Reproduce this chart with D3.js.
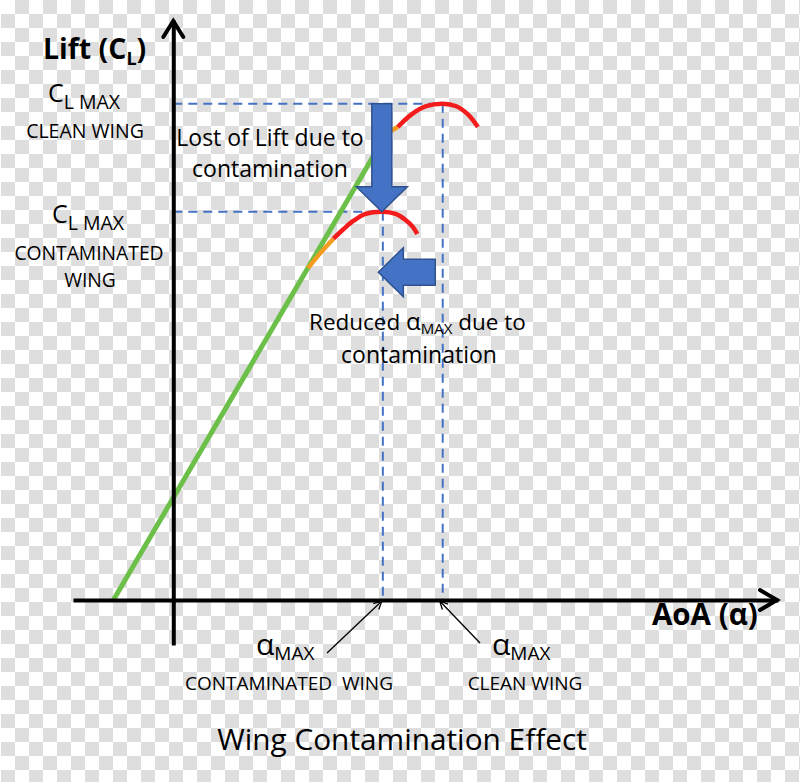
<!DOCTYPE html>
<html>
<head>
<meta charset="utf-8">
<script src="https://cdn.jsdelivr.net/npm/d3@7/dist/d3.min.js"></script>
<style>
	body { margin: 0; background: #fff; }
	svg { display: block; }
	text { font-family: 'Open Sans', Lato, sans-serif; fill: #000; }
</style>
</head>
<body>
<svg id="chart" width="800" height="782"></svg>
<script>
'use strict';

// angle of attack (deg) and lift coefficient
const liftLine = [[-4, 0], [14.2, 1.5]];
const cleanOrange = [[14.2, 1.5], [14.6, 1.514], [15.0, 1.525]];
const cleanRed = [[15.0, 1.525], [15.9, 1.565], [16.9, 1.592], [18.0, 1.6], [18.9, 1.592], [19.7, 1.565], [20.35, 1.525]];
const contamOrange = [[9.0, 1.07], [9.85, 1.12], [10.7, 1.165]];
const contamRed = [[10.7, 1.165], [11.4, 1.197], [12.05, 1.223], [12.85, 1.245], [14.0, 1.252], [14.85, 1.245], [15.5, 1.226], [16.0, 1.203], [16.3, 1.18]];
const alphaMax = [14, 18];      // contaminated, clean
const clMax = [1.252, 1.6];     // contaminated, clean
const lossArrow = [1.6, 1.252]; // CL from, to at alpha 14
const shiftArrow = [17.5, 13.7]; // alpha from, to at CL 1.057
const shiftArrowCl = 1.057;

const svg = d3.select('#chart'),
	W = 800, H = 782,
	x = d3.scaleLinear().domain([-6.7, 40.4]).range([73, 778]),
	y = d3.scaleLinear().domain([-0.145, 1.87]).range([645, 20]),
	blue = '#4472c4',
	line = d3.line().x(d => x(d[0])).y(d => y(d[1])).curve(d3.curveCatmullRom);

// transparent-png checker background
const cell = 14, cells = [];
d3.range(-1, Math.ceil(W / cell) + 1).forEach(i => {
	d3.range(0, Math.ceil(H / cell)).forEach(j => {
		if (Math.abs(i + j) % 2 === 0) cells.push([15 + i * cell, j * cell]);
	});
});
svg.append('rect').attr('width', W).attr('height', H).attr('fill', '#fff');
svg.append('g').attr('fill', '#dedede')
	.selectAll('rect').data(cells).enter().append('rect')
		.attr('x', d => d[0]).attr('y', d => d[1])
		.attr('width', cell).attr('height', cell);

const defs = svg.append('defs');
defs.append('marker')
	.attr('id', 'thin')
	.attr('viewBox', '0 0 10 10')
	.attr('refX', 9).attr('refY', 5)
	.attr('markerWidth', 10).attr('markerHeight', 10)
	.attr('markerUnits', 'userSpaceOnUse')
	.attr('orient', 'auto')
	.append('path')
		.attr('d', 'M1,1 L9,5 L1,9')
		.attr('fill', 'none').attr('stroke', '#000').attr('stroke-width', 1.3);

// dashed guide lines
const guides = svg.append('g')
	.attr('stroke', blue).attr('stroke-width', 2)
	.attr('stroke-dasharray', '9,6').attr('fill', 'none');
alphaMax.forEach((a, i) => {
	guides.append('line')
		.attr('x1', x(0)).attr('x2', x(a))
		.attr('y1', y(clMax[i])).attr('y2', y(clMax[i]));
	guides.append('line')
		.attr('x1', x(a)).attr('x2', x(a))
		.attr('y1', y(clMax[i])).attr('y2', y(0));
});

// lift curves
const curves = [
	{ d: liftLine, c: '#6cc04a', w: 5 },
	{ d: contamOrange, c: '#f39c1f', w: 4.5 },
	{ d: contamRed, c: '#f21c1c', w: 4.5 },
	{ d: cleanOrange, c: '#f39c1f', w: 4.5 },
	{ d: cleanRed, c: '#f21c1c', w: 4.5 }
];
svg.append('g').selectAll('path').data(curves).enter().append('path')
	.attr('d', d => line(d.d))
	.attr('fill', 'none')
	.attr('stroke', d => d.c)
	.attr('stroke-width', d => d.w);

// axes without ticks, plus open arrow heads
svg.append('g')
	.attr('class', 'axis')
	.attr('transform', `translate(0,${y(0)})`)
	.call(d3.axisBottom(x).tickValues([]).tickSizeOuter(0));
svg.append('g')
	.attr('class', 'axis')
	.attr('transform', `translate(${x(0)},0)`)
	.call(d3.axisLeft(y).tickValues([]).tickSizeOuter(0));
svg.selectAll('.axis .domain').attr('stroke', '#000').attr('stroke-width', 4);

const heads = svg.append('g')
	.attr('fill', 'none').attr('stroke', '#000').attr('stroke-width', 4)
	.attr('stroke-linecap', 'round').attr('stroke-linejoin', 'miter');
heads.append('path').attr('d', `M${x(0) - 10},${y(1.87) + 17} L${x(0)},${y(1.87) + 1} L${x(0) + 10},${y(1.87) + 17}`);
heads.append('path').attr('d', `M${x(40.4) - 18},${y(0) - 10} L${x(40.4) - 1},${y(0)} L${x(40.4) - 18},${y(0) + 10}`);

// block arrows
const downArrow = (cx, y0, y1) => {
	const sw = 10, hw = 25.5, hl = 25;
	return `M${cx - sw},${y0} L${cx + sw},${y0} L${cx + sw},${y1 - hl} L${cx + hw},${y1 - hl} L${cx},${y1} ` +
		`L${cx - hw},${y1 - hl} L${cx - sw},${y1 - hl} Z`;
};
const leftArrow = (cy, x0, x1) => {
	const sw = 13, hw = 24.5, hl = 25;
	return `M${x0},${cy - sw} L${x1 + hl},${cy - sw} L${x1 + hl},${cy - hw} L${x1},${cy} ` +
		`L${x1 + hl},${cy + hw} L${x1 + hl},${cy + sw} L${x0},${cy + sw} Z`;
};
svg.append('path')
	.attr('d', downArrow(x(alphaMax[0]) - 1, y(lossArrow[0]), y(lossArrow[1])))
	.attr('fill', blue).attr('stroke', '#2f528f').attr('stroke-width', 1.5);
svg.append('path')
	.attr('d', leftArrow(y(shiftArrowCl), x(shiftArrow[0]), x(shiftArrow[1])))
	.attr('fill', blue).attr('stroke', '#2f528f').attr('stroke-width', 1.5);

// thin pointer arrows to the alpha max points
svg.append('line')
	.attr('x1', 327).attr('y1', 653).attr('x2', x(alphaMax[0]) - 1).attr('y2', y(0) + 1)
	.attr('stroke', '#000').attr('stroke-width', 1.3).attr('marker-end', 'url(#thin)');
svg.append('line')
	.attr('x1', 480).attr('y1', 643).attr('x2', x(alphaMax[1]) - 3).attr('y2', y(0) + 1)
	.attr('stroke', '#000').attr('stroke-width', 1.3).attr('marker-end', 'url(#thin)');

// text
const label = (tx, ty, anchor, parts, weight) => {
	const t = svg.append('text')
		.attr('x', tx).attr('y', ty)
		.attr('text-anchor', anchor)
		.attr('font-weight', weight || 'normal');
	parts.forEach(p => {
		t.append('tspan')
			.attr('font-size', p.s)
			.attr('dy', p.dy || 0)
			.text(p.t);
	});
	return t;
};

label(43, 59, 'start', [{ t: 'Lift (C', s: 28.5 }, { t: 'L', s: 18, dy: 6 }, { t: ')', s: 28.5, dy: -6 }], 'bold');
label(48, 102, 'start', [{ t: 'C', s: 25 }, { t: 'L MAX', s: 19.5, dy: 7 }]);
label(85, 138, 'middle', [{ t: 'CLEAN WING', s: 19.5 }]);
label(52, 223, 'start', [{ t: 'C', s: 25 }, { t: 'L MAX', s: 19.5, dy: 7 }]);
label(89, 260, 'middle', [{ t: 'CONTAMINATED', s: 19.3 }]);
label(90, 287, 'middle', [{ t: 'WING', s: 19.3 }]);

label(270, 146, 'middle', [{ t: 'Lost of Lift due to', s: 23 }]);
label(270, 177, 'middle', [{ t: 'contamination', s: 23 }]);
label(309, 330, 'start', [{ t: 'Reduced ', s: 22.5 }, { t: 'α', s: 24 }, { t: 'MAX', s: 15, dy: 4 }, { t: ' due to', s: 22.5, dy: -4 }]);
label(419, 363, 'middle', [{ t: 'contamination', s: 23 }]);

label(256, 655, 'start', [{ t: 'α', s: 30 }, { t: 'MAX', s: 19, dy: 5 }]);
label(289, 690, 'middle', [{ t: 'CONTAMINATED  WING', s: 19 }]).attr('xml:space', 'preserve');
label(492, 655, 'start', [{ t: 'α', s: 30 }, { t: 'MAX', s: 19, dy: 5 }]);
label(525, 690, 'middle', [{ t: 'CLEAN WING', s: 19 }]);

label(652, 625, 'start', [{ t: 'AoA (α)', s: 29.5 }], 'bold');
label(402, 750, 'middle', [{ t: 'Wing Contamination Effect', s: 29.8 }]);
</script>
</body>
</html>
